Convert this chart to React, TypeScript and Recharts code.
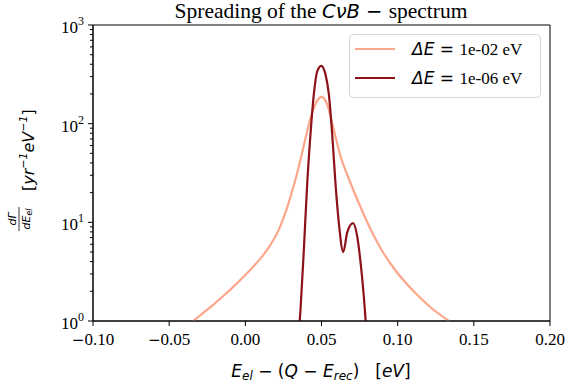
import { LineChart, Line, XAxis, YAxis, ReferenceArea, Customized } from "recharts";

// ΔE = 1e-02 eV (smeared spectrum)
const wideE = [-0.0342, -0.0276, -0.0211, -0.0145, -0.0079, -0.0013, 0.0053, 0.0099, 0.0164, 0.023, 0.0296, 0.0342, 0.0382, 0.0428, 0.0467, 0.05, 0.0539, 0.057, 0.0625, 0.0691, 0.0757, 0.0822, 0.0888, 0.0987, 0.1105, 0.1217, 0.1336];
const wideRate = [1.0, 1.21, 1.46, 1.79, 2.22, 2.79, 3.57, 4.29, 5.87, 9.15, 18.0, 32.3, 58.2, 114, 166, 187, 154, 101, 46.8, 24.9, 14.2, 8.5, 5.47, 3.23, 2.0, 1.37, 1.0];

// ΔE = 1e-06 eV (sharp spectrum)
const sharpE = [0.0357, 0.0362, 0.0384, 0.0406, 0.0428, 0.045, 0.0472, 0.0498, 0.0526, 0.0548, 0.057, 0.0592, 0.0614, 0.0643, 0.0669, 0.0707, 0.0735, 0.0757, 0.0778, 0.079];
const sharpRate = [1.0, 1.29, 5.25, 24.5, 79, 200, 339, 385, 316, 200, 79, 24.5, 9.8, 5.0, 7.9, 9.8, 7.1, 3.85, 1.76, 1.0];

const xTicks = [-0.1, -0.05, 0, 0.05, 0.1, 0.15, 0.2];
const yTicks = [1, 2, 3, 4, 5, 6, 7, 8, 9, 10, 20, 30, 40, 50, 60, 70, 80, 90, 100, 200, 300, 400, 500, 600, 700, 800, 900, 1000];

const wideData = wideE.map((e, i) => ({ e, rate: wideRate[i] }));
const sharpData = sharpE.map((e, i) => ({ e, rate: sharpRate[i] }));

const LIGHT = "#fca68a";
const DARK = "#8c1218";
const SERIF = "'Liberation Serif', 'Times New Roman', serif";
const SANS = "'DejaVu Sans', sans-serif";

function XTick({ x, y, payload }: any) {
  const v = payload.value as number;
  return (
    <text x={x} y={y + 19} textAnchor="middle" fontFamily={SERIF} fontSize={17} fill="#000">
      {v < 0 && <tspan fontFamily={SANS} fontSize={15}>−</tspan>}
      {Math.abs(v).toFixed(2)}
    </text>
  );
}

function YTick({ x, y, payload }: any) {
  const lg = Math.log10(payload.value);
  const exp = Math.round(lg);
  const major = Math.abs(lg - exp) < 1e-6;
  return (
    <g>
      <line x1={x - (major ? 5 : 3)} x2={x} y1={y} y2={y} stroke="#000" strokeWidth={1} />
      {major && (
        <text x={x - 9} y={y + 8} textAnchor="end" fontFamily={SERIF} fontSize={17} fill="#000">
          10<tspan dy={-8} fontSize={12}>{exp}</tspan>
        </text>
      )}
    </g>
  );
}

function Decorations() {
  return (
    <g>
      {/* title */}
      <text x={321} y={18} textAnchor="middle" fontSize={21.5} fill="#000" fontFamily={SERIF}>
        Spreading of the <tspan fontFamily={SANS} fontStyle="italic" fontSize={19.5}>CνB</tspan>
        <tspan fontFamily={SANS} fontSize={19.5}> − </tspan>spectrum
      </text>

      {/* x label */}
      <text x={321} y={377} textAnchor="middle" fontSize={17} fill="#000" fontFamily={SANS}>
        <tspan fontStyle="italic">E</tspan>
        <tspan fontStyle="italic" fontSize={12} dy={3}>el</tspan>
        <tspan dy={-3}> − (</tspan>
        <tspan fontStyle="italic">Q</tspan>
        <tspan> − </tspan>
        <tspan fontStyle="italic">E</tspan>
        <tspan fontStyle="italic" fontSize={12} dy={3}>rec</tspan>
        <tspan dy={-3}>)</tspan>
        <tspan dx={16}>[</tspan>
        <tspan fontStyle="italic">eV</tspan>
        <tspan>]</tspan>
      </text>

      {/* y label */}
      <g transform="translate(26,183) rotate(-90)" fontFamily={SANS} fill="#000">
        <text x={-36} y={-10} textAnchor="middle" fontSize={11} fontStyle="italic">dΓ</text>
        <line x1={-48} x2={-24} y1={-7} y2={-7} stroke="#000" strokeWidth={0.8} />
        <text x={-36} y={4} textAnchor="middle" fontSize={11} fontStyle="italic">
          dE<tspan fontSize={8} dy={2}>el</tspan>
        </text>
        <text x={-8} y={8} fontSize={16}>
          [<tspan fontStyle="italic">yr</tspan>
          <tspan fontSize={11} dy={-7} fontStyle="italic">−1</tspan>
          <tspan dy={7} fontStyle="italic">eV</tspan>
          <tspan fontSize={11} dy={-7} fontStyle="italic">−1</tspan>
          <tspan dy={7}>]</tspan>
        </text>
      </g>

      {/* legend */}
      <rect x={349.5} y={34.5} width={191} height={63} rx={4} fill="#fff" fillOpacity={0.8} stroke="#d4d4d4" />
      <line x1={355} x2={395} y1={49} y2={49} stroke={LIGHT} strokeWidth={2.2} />
      <line x1={355} x2={395} y1={78} y2={78} stroke={DARK} strokeWidth={2.2} />
      <text x={412} y={55} fontSize={17} fill="#000" fontFamily={SERIF}>
        <tspan fontFamily={SANS} fontStyle="italic">ΔE</tspan>
        <tspan fontFamily={SANS}> = </tspan>1e-02 eV
      </text>
      <text x={412} y={84} fontSize={17} fill="#000" fontFamily={SERIF}>
        <tspan fontFamily={SANS} fontStyle="italic">ΔE</tspan>
        <tspan fontFamily={SANS}> = </tspan>1e-06 eV
      </text>
    </g>
  );
}

export default function App() {
  return (
    <div style={{ position: "absolute", left: 0, top: 0, background: "#fff" }}>
      <LineChart width={571} height={387} margin={{ top: 25, right: 21, left: 0, bottom: 0 }}>
        <XAxis
          dataKey="e"
          type="number"
          domain={[-0.1, 0.2]}
          ticks={xTicks}
          allowDataOverflow
          height={66}
          tickSize={5}
          tickMargin={0}
          interval={0}
          stroke="#000"
          tick={<XTick />}
        />
        <YAxis
          dataKey="rate"
          type="number"
          scale="log"
          domain={[1, 1000]}
          ticks={yTicks}
          allowDataOverflow
          interval={0}
          width={93}
          tickSize={0}
          tickMargin={0}
          tickLine={false}
          stroke="#000"
          tick={<YTick />}
        />
        <ReferenceArea x1={-0.1} x2={0.2} y1={1} y2={1000} fill="none" stroke="#000" strokeWidth={1} />
        <Line data={wideData} dataKey="rate" type="monotone" stroke={LIGHT} strokeWidth={2.2} dot={false} isAnimationActive={false} />
        <Line data={sharpData} dataKey="rate" type="monotone" stroke={DARK} strokeWidth={2.2} dot={false} isAnimationActive={false} />
        <Customized component={<Decorations />} />
      </LineChart>
    </div>
  );
}
